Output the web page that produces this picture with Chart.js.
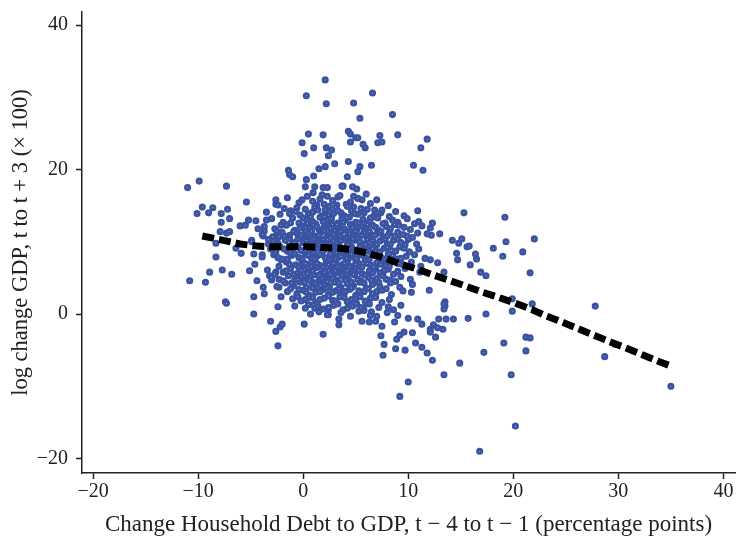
<!DOCTYPE html>
<html>
<head>
<meta charset="utf-8">
<script src="https://cdn.jsdelivr.net/npm/chart.js@4/dist/chart.umd.min.js"></script>
<style>
  html, body { margin: 0; padding: 0; background: #fff; }
  #wrap { width: 736px; height: 541px; }
</style>
</head>
<body>
<div id="wrap"><canvas id="chart"></canvas></div>
<script>
// [debt change (pp), log change GDP x100]
const upperPoints = [
    [2.1, 32.4], [0.3, 30.2], [2.2, 29.1], [4.8, 29.2], [6.6, 30.6], [5.4, 27.1], [8.5, 27.6],
    [0.5, 24.9], [1.9, 24.8], [-0.1, 23.7], [4.3, 25.3], [4.5, 24.9], [5.0, 24.4], [5.2, 24.4],
    [4.5, 23.8], [7.3, 24.7], [9.0, 24.8], [11.8, 24.2], [11.2, 23.0], [7.1, 23.7], [7.5, 23.8],
    [5.7, 23.5], [5.9, 23.0], [1.0, 23.0], [0.1, 22.2], [2.2, 23.0], [2.7, 22.7], [2.4, 21.9],
    [3.0, 20.8], [4.3, 21.1], [6.5, 20.6], [2.1, 20.4], [1.5, 20.1], [10.5, 20.6], [11.4, 19.9],
    [-1.4, 19.9], [-1.3, 19.3], [-1.0, 19.0], [1.0, 19.1], [0.3, 18.6], [4.2, 19.0], [5.4, 20.4],
    [5.2, 19.7], [0.2, 17.6], [1.1, 17.6], [1.9, 17.5], [2.3, 17.5], [0.95, 16.8], [1.8, 16.5],
    [2.3, 16.3], [3.3, 16.2], [3.7, 17.7], [-0.1, 15.8], [1.3, 15.1], [-0.6, 14.7], [3.8, 17.7],
    [4.7, 17.6], [5.1, 17.3], [4.8, 16.3], [6.0, 16.6], [5.6, 15.8], [4.1, 15.2], [4.8, 14.8],
    [8.1, 15.0], [6.8, 14.4], [7.4, 14.0],
];
const leftPoints = [
    [-11.0, 17.5], [-9.9, 18.4], [-7.3, 17.7], [-9.6, 14.8], [-10.1, 13.9], [-9.0, 14.0],
    [-8.6, 14.7], [-7.2, 14.5], [-7.8, 13.9], [-7.8, 12.7], [-7.0, 13.2], [-5.4, 15.5],
    [-6.0, 12.2], [-5.2, 13.0], [-5.5, 12.3], [-7.9, 11.4], [-7.3, 11.2], [-7.0, 11.4],
    [-8.3, 9.8], [-8.3, 7.9], [-8.9, 5.8], [-7.7, 6.1], [-6.8, 5.5], [-10.8, 4.6], [-9.3, 4.4],
    [-7.4, 1.7], [-6.4, 9.1], [-5.9, 8.4], [-5.1, 6.0], [-4.6, 6.9], [-4.4, 4.6], [-4.7, 2.4],
    [-3.8, 3.7], [-3.7, 2.8], [-3.5, 13.0], [-4.3, 11.8], [-3.7, 11.5], [-3.8, 10.8],
    [-4.9, 10.2], [-4.7, 8.3], [-3.9, 8.2], [-3.3, 9.7], [-2.6, 15.2], [-2.4, 15.1],
    [-2.4, 11.2], [-2.3, 10.7], [-2.1, 7.5], [-2.6, 5.8], [-3.2, 5.3], [-3.0, 4.7],
    [-2.3, 3.7], [-2.1, 2.4], [-2.4, 1.0], [-4.7, 0.0], [-3.1, -1.0], [-2.6, -2.4],
    [-2.2, -1.8], [-2.0, -1.4], [-2.4, -4.4], [-7.3, 1.5],
];
const rightPoints = [
    [15.3, 14.0], [19.2, 13.4], [12.1, 11.9], [13.0, 11.1], [12.2, 10.9], [14.2, 10.2],
    [15.1, 10.4], [15.6, 9.3], [14.8, 9.8], [15.8, 9.4], [19.3, 10.0], [18.1, 9.1], [14.6, 8.4],
    [16.4, 8.3], [19.0, 8.0], [14.7, 7.5], [16.5, 7.6], [15.9, 6.8], [16.9, 5.8], [17.4, 5.3],
    [12.1, 7.5], [12.8, 7.1], [13.4, 5.8], [12.0, 3.3], [13.5, 1.1], [13.5, 1.7], [22.0, 10.4],
    [20.9, 8.6], [21.6, 5.7], [19.9, 2.1], [19.9, 0.4], [21.8, 1.4], [27.8, 1.1], [21.2, -3.2],
    [21.6, -3.3], [19.1, -4.0], [21.2, -5.1], [28.7, -5.9], [29.7, -4.2], [19.8, -8.4],
    [35.0, -10.0], [20.2, -15.5], [16.8, -19.0], [17.4, 0.0], [17.2, -5.3], [14.9, -6.8],
    [13.4, -8.4], [15.7, -0.6], [14.3, -0.7], [13.6, -0.7], [13.4, 1.4], [13.4, 0.7],
];
const lowerPoints = [
    [0.1, -1.4], [1.9, -2.8], [0.7, 0.0], [1.1, 0.8], [2.4, -0.1], [3.4, -0.7], [3.4, -1.5],
    [5.6, -1.0], [6.3, -1.1], [6.9, -1.0], [7.5, -1.7], [7.4, -3.0], [7.7, -4.2], [7.6, -5.7],
    [8.8, -4.8], [9.7, -5.0], [8.9, -3.5], [9.2, -2.9], [9.6, -2.5], [10.0, -0.6], [8.7, -1.1],
    [10.0, -9.4], [9.2, -11.4], [10.9, -0.7], [11.3, -1.4], [10.4, -2.6], [10.7, -4.0],
    [11.3, -4.6], [11.8, -5.4], [12.3, -6.4], [12.9, -0.7], [12.4, -1.5], [12.8, -1.9],
    [13.3, -2.1], [12.1, -2.1], [12.1, -2.5], [12.6, -3.2], [2.3, -0.1], [2.4, 0.6],
    [5.8, 0.5], [6.5, 0.3], [7.2, 0.9], [8.0, 0.2], [8.6, 0.6], [9.3, 1.2], [6.0, 1.4],
    [7.0, -0.3], [9.0, -0.2],
];
// the dense middle of the cloud
const corePoints = [
    [-2.6, 15.8], [-1.5, 16.1], [-0.4, 15.4], [0.4, 16.3], [0.9, 15.6], [1.6, 15.9], [2.0, 15.2],
    [2.8, 15.7], [3.5, 16.4], [4.5, 15.5], [5.2, 16.0], [6.4, 15.3], [7.0, 15.8], [2.5, 14.9], [3.2, 15.1],
    [-3.5, 14.1], [-2.2, 13.8], [-1.8, 14.6], [-1.2, 14.3], [-0.3, 13.7], [0.2, 14.5], [0.5, 13.9],
    [1.1, 14.8], [1.8, 13.6], [2.5, 14.2], [2.9, 13.9], [3.1, 14.7], [3.9, 13.6], [4.6, 14.3],
    [5.2, 13.8], [6.1, 14.5], [6.8, 13.7], [8.8, 14.2], [9.6, 13.6], [10.9, 14.3], [0.9, 14.1],
    [2.1, 14.4], [3.6, 14.0], [4.2, 14.9], [5.8, 14.0],
    [-4.5, 12.9], [-3.0, 13.2], [-1.9, 12.7], [-1.0, 13.3], [-0.4, 12.6], [0.3, 13.1], [0.9, 12.8],
    [1.6, 13.4], [2.2, 12.9], [2.7, 13.2], [3.3, 12.6], [4.0, 13.0], [4.4, 13.4], [5.0, 12.7],
    [5.7, 13.1], [6.3, 12.8], [7.1, 13.3], [7.8, 12.6], [8.5, 13.0], [9.0, 12.7], [9.9, 13.2],
    [11.0, 12.8], [12.3, 12.6], [1.2, 12.5], [3.7, 13.3], [6.6, 13.4], [2.0, 13.5],
    [-3.7, 12.1], [-2.7, 11.8], [-1.6, 12.3], [-0.8, 11.6], [-0.1, 12.2], [0.6, 11.9], [1.0, 12.4],
    [1.5, 11.7], [2.0, 12.0], [2.4, 12.3], [3.0, 11.6], [3.4, 12.1], [3.9, 11.8], [4.5, 12.4],
    [5.1, 11.7], [5.5, 12.2], [6.0, 11.9], [6.6, 12.3], [7.2, 11.6], [7.9, 12.1], [8.3, 11.8],
    [9.1, 12.3], [10.2, 11.7], [11.3, 12.2], [0.2, 11.5], [2.8, 12.4], [4.2, 11.5], [5.8, 11.5], [1.8, 11.6],
    [-3.9, 11.0], [-2.9, 10.7], [-2.0, 11.3], [-1.3, 10.9], [-0.6, 11.2], [0.1, 10.6], [0.5, 11.1],
    [1.1, 10.8], [1.7, 11.3], [2.3, 10.7], [2.6, 11.2], [3.2, 10.9], [3.6, 11.4], [4.1, 10.6],
    [4.7, 11.0], [5.3, 10.8], [5.8, 11.3], [6.5, 10.7], [7.0, 11.1], [7.6, 10.6], [8.2, 11.2],
    [8.7, 10.8], [9.5, 11.0], [10.4, 10.6], [11.8, 11.1], [1.3, 10.5], [4.3, 11.3], [6.2, 10.5], [3.0, 10.5],
    [-4.9, 10.0], [-3.3, 10.3], [-2.4, 9.8], [-1.7, 10.2], [-1.0, 9.6], [-0.5, 10.4], [0.0, 9.9],
    [0.7, 10.2], [1.2, 9.7], [1.9, 10.3], [2.5, 9.8], [2.9, 10.1], [3.4, 9.6], [3.8, 10.4],
    [4.4, 9.9], [4.9, 10.2], [5.6, 9.7], [6.1, 10.3], [6.8, 9.8], [7.3, 10.1], [8.0, 9.6],
    [8.6, 10.2], [9.3, 9.9], [10.0, 10.3], [10.8, 9.7], [0.4, 10.5], [2.1, 9.5], [5.2, 10.4],
    [3.1, 9.5], [1.5, 10.0],
    [-3.1, 9.0], [-2.2, 9.3], [-1.5, 8.7], [-0.9, 9.2], [-0.2, 8.8], [0.3, 9.4], [0.9, 8.6],
    [1.4, 9.1], [2.0, 8.9], [2.4, 9.4], [3.0, 8.7], [3.5, 9.2], [4.0, 8.8], [4.6, 9.3], [5.1, 8.6],
    [5.7, 9.0], [6.2, 9.4], [6.9, 8.7], [7.7, 9.1], [8.4, 8.8], [9.2, 9.3], [10.1, 8.6], [11.0, 9.0],
    [1.7, 9.5], [3.2, 8.5], [6.5, 8.5], [4.3, 9.5],
    [-3.9, 7.9], [-2.8, 8.2], [-2.0, 7.6], [-1.1, 8.1], [-0.4, 7.8], [0.2, 8.3], [0.8, 7.7],
    [1.3, 8.0], [1.8, 8.4], [2.3, 7.6], [2.8, 8.1], [3.3, 7.8], [3.9, 8.3], [4.3, 7.6], [4.8, 8.0],
    [5.4, 8.4], [6.0, 7.7], [6.7, 8.2], [7.4, 7.8], [8.1, 8.3], [8.9, 7.6], [9.8, 8.0], [10.6, 8.2],
    [11.6, 7.7], [1.0, 8.5], [4.1, 8.5], [2.5, 7.5],
    [-1.6, 7.2], [-0.7, 6.8], [-0.1, 7.3], [0.5, 6.9], [1.1, 7.4], [1.6, 6.7], [2.2, 7.1],
    [2.7, 6.6], [3.1, 7.3], [3.7, 6.8], [4.2, 7.2], [4.7, 6.6], [5.3, 7.0], [5.9, 7.4], [6.4, 6.8],
    [7.0, 7.1], [7.8, 6.7], [8.5, 7.3], [9.4, 6.9], [10.3, 7.2], [11.2, 6.6], [0.0, 6.6],
    [2.5, 7.5], [3.5, 6.5], [5.0, 7.5],
    [-3.4, 6.1], [-1.9, 5.8], [-1.2, 6.3], [-0.5, 5.7], [0.1, 6.2], [0.6, 5.9], [1.2, 6.4],
    [1.7, 5.6], [2.4, 6.0], [2.9, 6.3], [3.4, 5.7], [3.9, 6.1], [4.5, 5.8], [5.0, 6.4], [5.6, 5.6],
    [6.3, 6.0], [6.9, 6.3], [7.3, 5.7], [8.1, 6.2], [9.0, 5.9], [9.7, 6.3], [11.1, 5.8], [1.4, 6.5],
    [3.6, 6.5], [4.2, 5.5],
    [-3.0, 5.1], [-2.3, 4.8], [-1.4, 5.3], [-0.8, 4.7], [-0.2, 5.2], [0.4, 4.9], [1.0, 5.4],
    [1.5, 4.6], [2.1, 5.0], [2.6, 5.3], [3.2, 4.7], [3.8, 5.2], [4.3, 4.8], [4.9, 5.4], [5.5, 4.6],
    [6.2, 5.1], [7.0, 4.9], [7.6, 5.3], [8.3, 4.7], [9.3, 5.2], [10.2, 4.8], [0.8, 4.5], [2.9, 5.5],
    [-2.5, 3.8], [-1.7, 4.3], [-0.9, 3.9], [-0.3, 4.4], [0.3, 3.7], [0.9, 4.2], [1.4, 3.6],
    [2.0, 4.1], [2.5, 3.8], [3.0, 4.4], [3.6, 3.7], [4.2, 4.2], [4.8, 3.9], [5.4, 4.4], [6.0, 3.6],
    [6.6, 4.1], [7.3, 3.8], [8.3, 4.3], [9.2, 3.7], [10.4, 4.1], [1.7, 4.5],
    [-1.5, 3.1], [-0.6, 2.8], [0.0, 3.3], [0.6, 2.6], [1.2, 3.0], [1.9, 3.4], [2.4, 2.7],
    [3.1, 3.2], [3.7, 2.9], [4.4, 3.4], [5.0, 2.6], [5.8, 3.1], [6.6, 2.8], [7.5, 3.3], [8.4, 2.7],
    [9.5, 3.2], [10.3, 3.0],
    [-1.0, 2.1], [-0.2, 1.8], [0.5, 2.3], [1.3, 1.6], [2.0, 2.2], [2.8, 1.9], [3.5, 2.4],
    [4.2, 1.7], [5.0, 2.1], [5.9, 1.8], [6.4, 2.2], [7.5, 1.6], [8.2, 2.0],
    [-0.8, 1.1], [0.2, 0.8], [1.0, 1.3], [1.9, 0.7], [2.9, 1.2], [3.8, 0.6], [4.7, 1.1],
    [5.5, 0.9], [6.3, 1.4], [8.1, 1.0],
    [3.6, 0.2], [4.5, -0.3], [5.3, 0.4], [6.4, -0.2], [1.5, 0.3],
];
// more observations packed between the ones above
const coreExtra = [
    [-1.3, 13.9], [-0.7, 14.2], [0.0, 13.3], [0.7, 13.5], [1.4, 14.4], [2.4, 13.7], [3.3, 14.3],
    [4.1, 13.4], [4.9, 13.9], [5.5, 14.6], [6.4, 13.3], [7.5, 14.4], [8.2, 13.5],
    [-2.1, 12.3], [-1.2, 12.6], [-0.3, 11.9], [0.4, 12.5], [1.3, 12.1], [1.9, 12.8], [2.6, 11.9],
    [3.2, 12.4], [3.8, 12.7], [4.7, 12.0], [5.3, 12.6], [6.1, 12.4], [6.9, 12.0], [7.6, 12.5],
    [8.7, 12.4], [9.6, 12.0], [10.6, 12.5],
    [-2.5, 11.4], [-1.8, 10.8], [-0.9, 11.4], [-0.2, 10.9], [0.8, 11.5], [1.5, 10.9], [2.0, 11.5],
    [2.9, 11.0], [3.5, 10.7], [4.4, 11.1], [5.0, 11.4], [5.6, 10.9], [6.3, 11.4], [6.8, 10.9],
    [7.4, 11.4], [8.0, 10.8], [9.0, 11.3], [9.9, 10.8], [10.9, 11.2],
    [-2.8, 10.1], [-1.3, 10.4], [-0.8, 9.9], [0.3, 10.2], [1.0, 10.4], [1.6, 9.6], [2.3, 10.3],
    [3.2, 9.8], [3.6, 10.2], [4.2, 9.6], [4.7, 10.4], [5.4, 10.0], [5.9, 9.6], [6.6, 10.2],
    [7.0, 9.6], [7.8, 10.3], [8.3, 9.7], [9.0, 10.4], [9.7, 9.6],
    [-2.6, 8.6], [-1.8, 9.0], [-1.2, 8.5], [-0.5, 9.3], [0.6, 9.0], [1.1, 9.4], [1.8, 8.7],
    [2.2, 9.2], [2.7, 8.8], [3.3, 9.3], [3.8, 8.6], [4.4, 9.1], [4.9, 8.8], [5.4, 9.3], [6.0, 8.7],
    [6.6, 9.1], [7.3, 8.6], [8.0, 9.2], [8.8, 8.7], [9.6, 9.1],
    [-2.4, 7.8], [-1.5, 7.6], [-0.8, 8.3], [-0.1, 7.6], [0.5, 8.1], [1.1, 7.6], [1.6, 8.2],
    [2.1, 7.8], [2.6, 8.3], [3.1, 7.6], [3.6, 8.0], [4.1, 7.7], [4.6, 8.3], [5.1, 7.7], [5.7, 8.1],
    [6.3, 7.6], [7.0, 8.0], [7.7, 7.6], [8.5, 8.1], [9.3, 7.7],
    [-2.3, 6.6], [-1.3, 6.9], [-0.4, 6.5], [0.2, 7.0], [0.8, 6.6], [1.3, 7.0], [1.9, 6.5],
    [2.4, 6.9], [2.9, 7.0], [3.3, 6.6], [3.9, 7.0], [4.4, 6.5], [5.0, 6.9], [5.6, 6.5], [6.1, 7.0],
    [6.7, 6.5], [7.4, 6.9], [8.2, 6.6], [9.1, 7.0],
    [-2.7, 5.5], [-1.6, 6.0], [-0.9, 5.5], [-0.2, 6.0], [0.4, 5.6], [0.9, 6.0], [1.5, 5.4],
    [2.0, 5.8], [2.6, 5.5], [3.1, 6.0], [3.7, 5.4], [4.2, 6.0], [4.8, 5.5], [5.3, 6.0], [5.9, 5.4],
    [6.6, 5.7], [7.7, 6.0], [8.6, 5.5],
    [-1.9, 4.6], [-1.1, 4.3], [-0.5, 4.8], [0.1, 4.4], [0.6, 4.7], [1.2, 4.3], [1.8, 4.9],
    [2.3, 4.5], [2.8, 4.9], [3.4, 4.3], [4.0, 4.7], [4.6, 4.4], [5.2, 4.8], [5.8, 4.3], [6.5, 4.7],
    [7.2, 4.4], [7.9, 4.8], [8.8, 4.5],
    [-1.2, 3.5], [-0.4, 3.4], [0.3, 3.0], [0.9, 3.6], [1.6, 3.1], [2.2, 3.6], [2.8, 3.0],
    [3.4, 3.5], [4.0, 3.1], [4.6, 3.6], [5.3, 3.2], [6.2, 3.5], [7.0, 3.1], [7.9, 3.5],
    [-0.5, 2.4], [0.2, 2.0], [0.9, 2.3], [1.6, 2.0], [2.4, 2.5], [3.1, 1.8], [3.9, 2.3],
    [4.6, 2.0], [5.4, 2.4], [6.9, 2.3],
    [0.5, 1.3], [1.4, 1.1], [2.4, 0.9], [3.3, 1.4], [4.2, 0.8], [5.1, 1.4],
];
// fitted curve, read dash by dash along the line
const fitX = [-9.6, -7.6, -6.0, -4.4, -2.9, -1.1, 0.5, 2.0, 3.5, 5.0, 6.2, 7.8, 9.3, 10.9, 12.4,
    14.0, 15.6, 17.1, 18.6, 20.2, 21.8, 23.2, 24.8, 26.3, 27.8, 29.3, 30.9, 32.4, 33.9, 35.0];
const fitY = [10.8, 10.2, 9.7, 9.4, 9.3, 9.3, 9.3, 9.2, 9.1, 8.8, 8.4, 7.7, 6.9, 6.2, 5.4,
    4.6, 3.8, 3.0, 2.3, 1.5, 0.6, -0.3, -1.2, -2.1, -3.0, -3.9, -4.8, -5.7, -6.6, -7.2];

const xTicks = [-20, -10, 0, 10, 20, 30, 40];
const yTicks = [-20, 0, 20, 40];

const serif = '"Liberation Serif", "DejaVu Serif", serif';
const ink = '#222';
const minus = (v) => `${v}`.replace('-', '\u2212');

const scatterData = [...upperPoints, ...leftPoints, ...rightPoints, ...lowerPoints,
    ...corePoints, ...coreExtra].map(([x, y]) => ({ x, y }));
const fitData = fitX.map((x, i) => ({ x, y: fitY[i] }));

const axisBits = {
    border: { display: true, color: ink, width: 1.5 },
    grid: {
        display: true, drawOnChartArea: false, drawTicks: true,
        tickLength: 6, tickColor: ink, tickWidth: 1.5,
    },
};

new Chart(document.getElementById('chart'), {
    type: 'scatter',
    data: {
        datasets: [
            {
                type: 'line',
                label: 'Fit',
                data: fitData,
                borderColor: '#000',
                borderWidth: 7,
                borderDash: [12, 5],
                borderCapStyle: 'butt',
                pointRadius: 0,
                fill: false,
                tension: 0,
                order: 0,
            },
            {
                label: 'Observations',
                data: scatterData,
                pointRadius: 2.0,
                borderWidth: 3.1,
                borderColor: '#3a53a2',
                backgroundColor: '#ffffff',
                order: 1,
            },
        ],
    },
    options: {
        responsive: true,
        maintainAspectRatio: false,
        animation: false,
        layout: { autoPadding: false, padding: { top: 12, right: 1, left: 0, bottom: 0 } },
        plugins: { legend: { display: false }, tooltip: { enabled: false } },
        scales: {
            x: {
                type: 'linear',
                min: -21.05,
                max: 41.1,
                afterBuildTicks: (scale) => { scale.ticks = xTicks.map((value) => ({ value })); },
                afterFit: (scale) => {
                    scale.height = 68;
                    scale.paddingLeft = 0;
                    scale.paddingRight = 0;
                },
                ticks: {
                    color: ink, padding: 1,
                    font: { family: serif, size: 20 },
                    callback: minus,
                },
                title: {
                    display: true,
                    text: 'Change Household Debt to GDP, t \u2212 4 to t \u2212 1 (percentage points)',
                    color: ink,
                    font: { family: serif, size: 23 },
                    padding: { top: 0, bottom: 2 },
                },
                ...axisBits,
            },
            y: {
                type: 'linear',
                min: -22,
                max: 41.8,
                afterBuildTicks: (scale) => { scale.ticks = yTicks.map((value) => ({ value })); },
                afterFit: (scale) => {
                    scale.width = 82;
                    scale.paddingTop = 0;
                    scale.paddingBottom = 0;
                },
                ticks: {
                    color: ink, padding: 8,
                    font: { family: serif, size: 20 },
                    callback: minus,
                },
                title: {
                    display: true,
                    text: 'log change GDP, t to t + 3 (\u00d7 100)',
                    color: ink,
                    font: { family: serif, size: 22.5 },
                    padding: { top: 8, bottom: 0 },
                },
                ...axisBits,
            },
        },
    },
});
</script>
</body>
</html>
